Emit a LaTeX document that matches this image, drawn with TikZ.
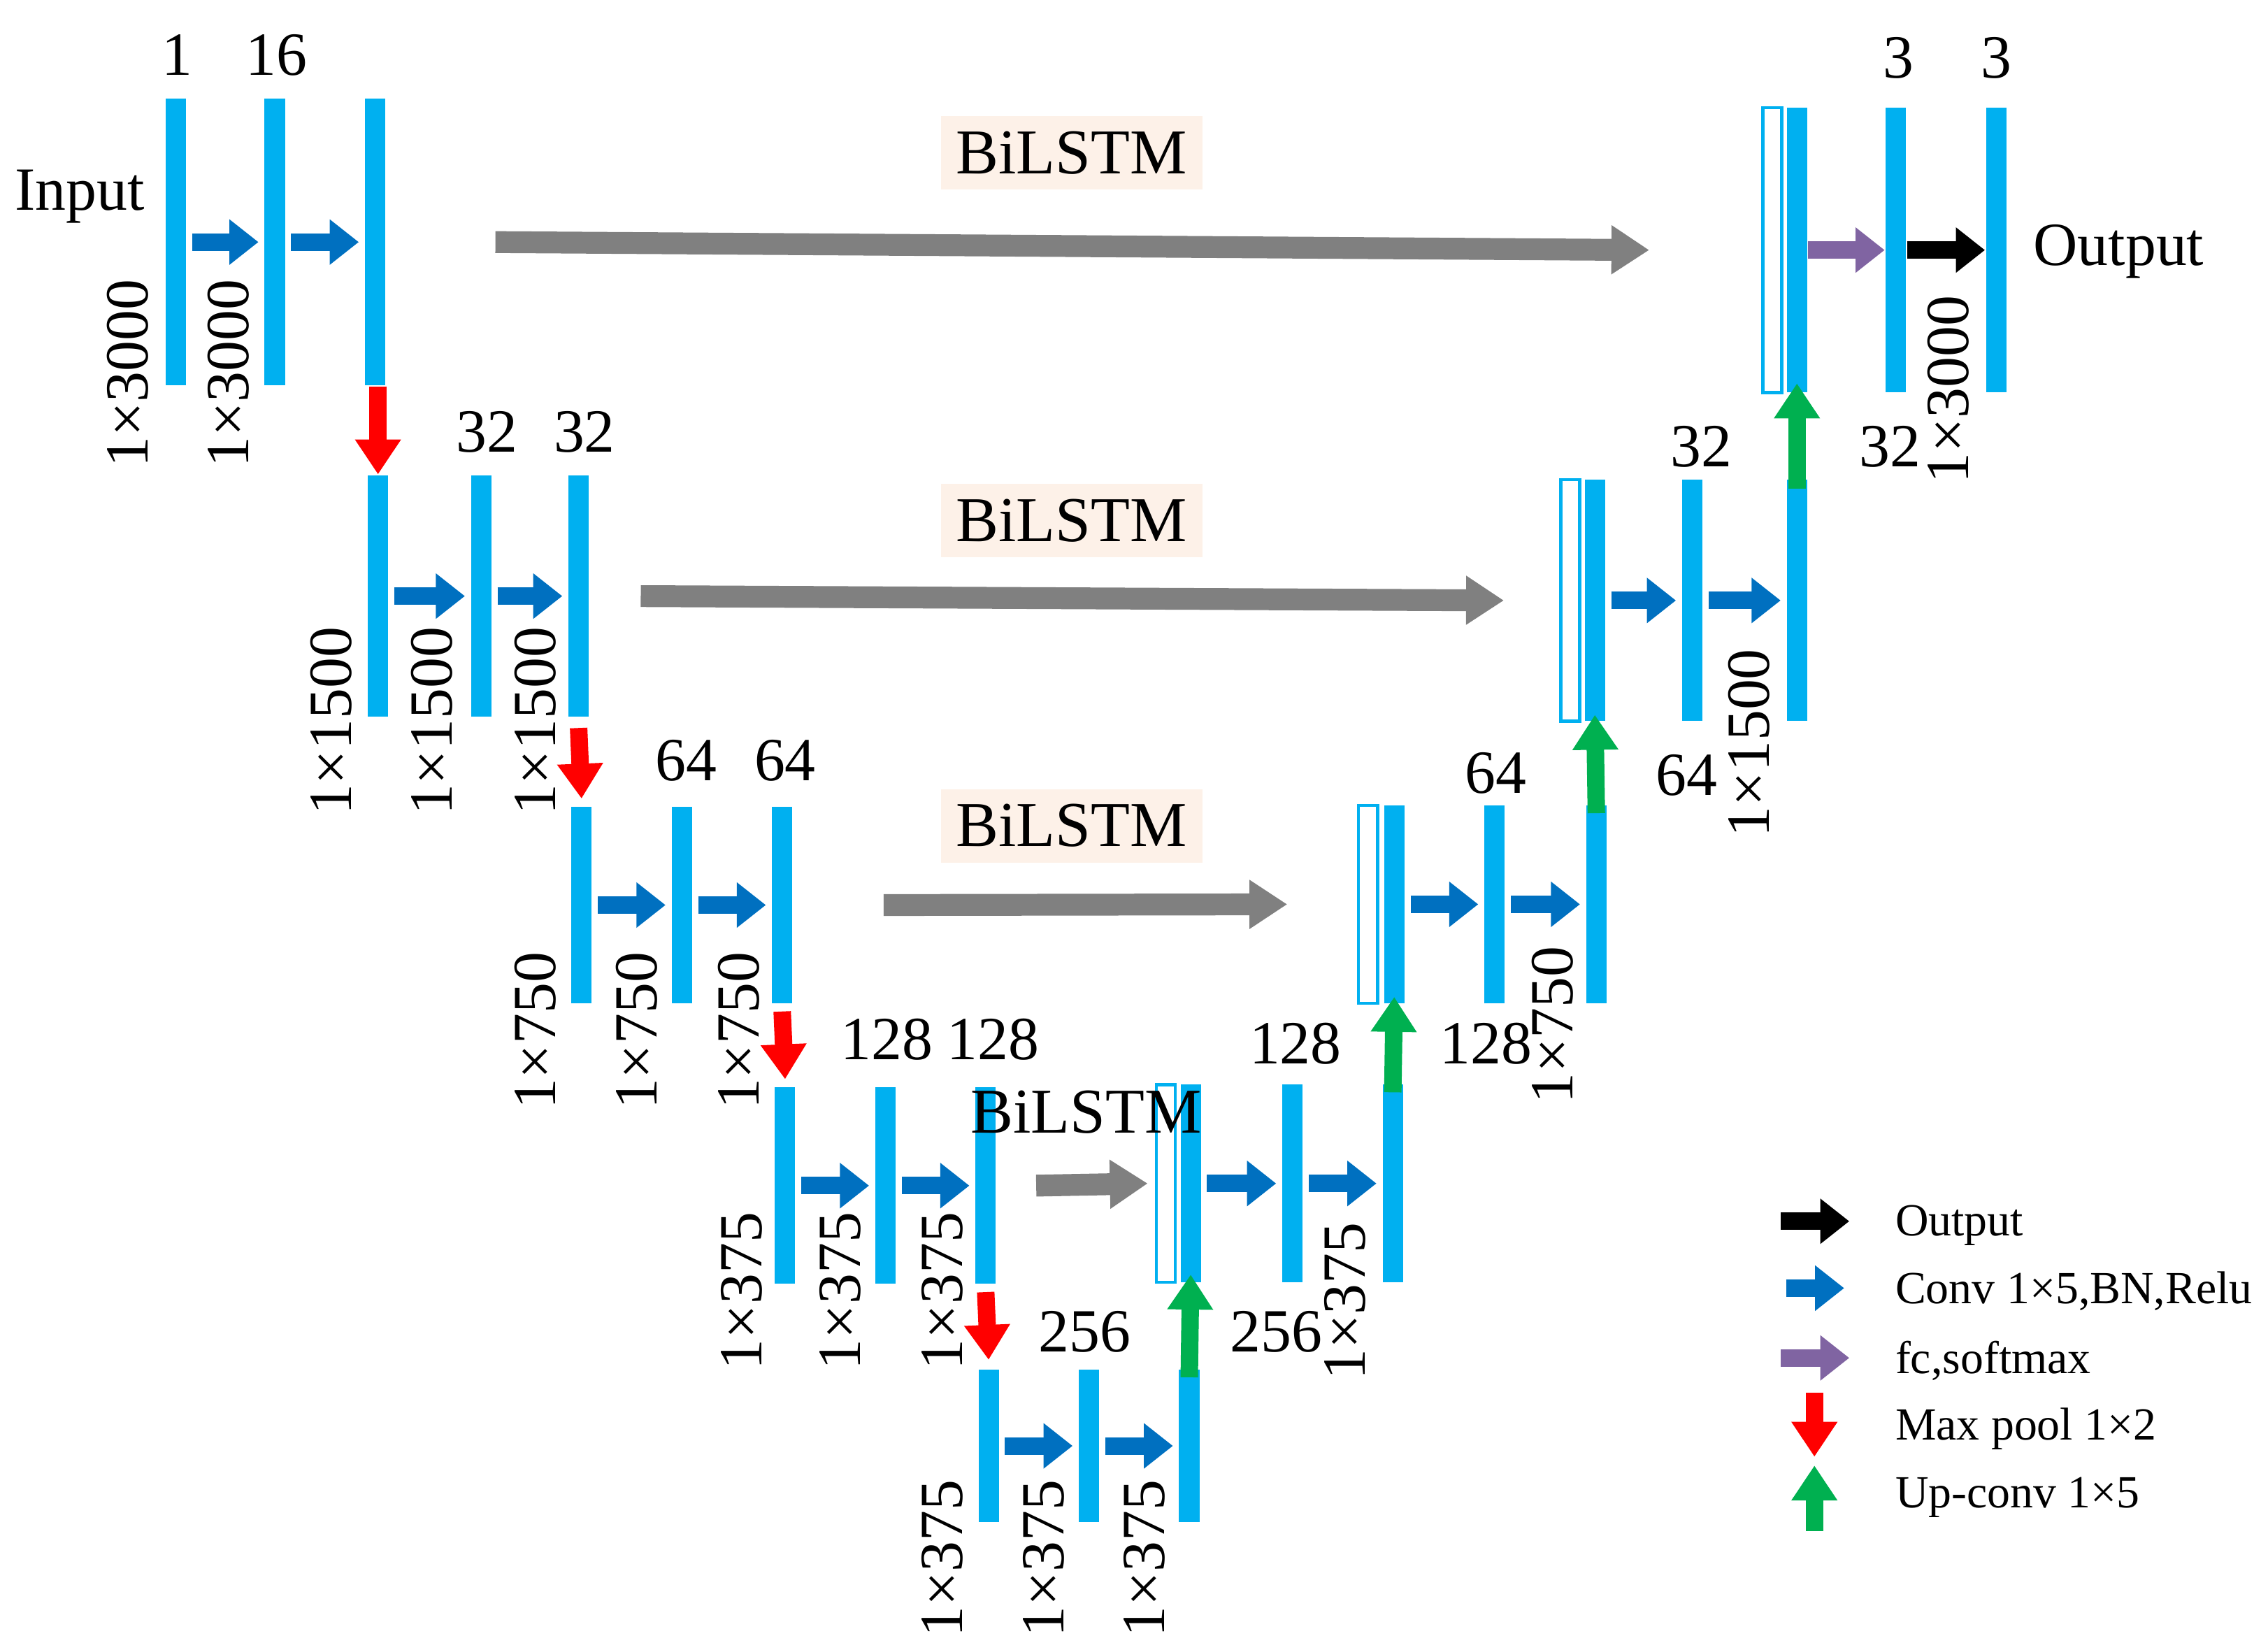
\documentclass[tikz,border=0pt]{standalone}
\usepackage{fontspec}
\setmainfont{Liberation Serif}
\usetikzlibrary{arrows.meta}
\definecolor{barc}{HTML}{00B0F0}
\definecolor{convc}{HTML}{0070C0}
\definecolor{grayc}{HTML}{808080}
\definecolor{purc}{HTML}{8064A2}
\definecolor{grnc}{HTML}{00B050}
\definecolor{redc}{HTML}{FF0000}
\definecolor{bgc}{HTML}{FDF1E8}
\tikzset{
 bar/.style={fill=barc,draw=none,minimum width=0.14cm,inner sep=0pt},
 obar/.style={fill=white,draw=barc,line width=0.6pt,minimum width=0.13cm,inner sep=0pt},
 txt/.style={font=\fontsize{12}{14}\selectfont,inner sep=0pt},
 dim/.style={txt,rotate=90},
 bil/.style={font=\fontsize{12.5}{14}\selectfont,fill=bgc,inner sep=3pt},
 leg/.style={font=\fontsize{9}{11}\selectfont,anchor=west,inner sep=0pt},
 conv/.style={draw=convc,line width=0.12cm,-{Triangle[length=0.2cm,width=0.3cm]},shorten <=1pt,shorten >=1pt},
 gray/.style={draw=grayc,line width=0.15cm,-{Triangle[length=0.26cm,width=0.32cm]}},
 down/.style={draw=redc,line width=0.12cm,-{Triangle[length=0.24cm,width=0.3cm]}},
 up/.style={draw=grnc,line width=0.12cm,-{Triangle[length=0.24cm,width=0.3cm]}},
 pur/.style={draw=purc,line width=0.12cm,-{Triangle[length=0.2cm,width=0.3cm]}},
 blk/.style={draw=black,line width=0.12cm,-{Triangle[length=0.2cm,width=0.3cm]}},
}
\newcommand{\blk}[5][bar]{\node[#1,minimum height=#5*0.01cm] (#2) at (#3,#4) {};}
\begin{document}
\begin{tikzpicture}[x=0.01cm,y=-0.01cm]
\useasboundingbox (0,0) rectangle (1560,1130);
% row 1 left
\blk{a1}{121}{166.5}{197}\blk{a2}{189}{166.5}{197}\blk{a3}{258}{166.5}{197}
\node[txt] at (122,38) {1};\node[txt] at (190,38) {16};
\node[txt] at (55,135) {Input};
\node[dim] at (88,257) {1×3000};\node[dim] at (157,257) {1×3000};
\draw[conv] (a1.east) -- (a2.west);\draw[conv] (a2.east) -- (a3.west);
% row 2 left
\blk{b1}{260}{410}{166}\blk{b2}{331}{410}{166}\blk{b3}{398}{410}{166}
\node[txt] at (335,297) {32};\node[txt] at (402,297) {32};
\node[dim] at (228,496) {1×1500};\node[dim] at (297,496) {1×1500};\node[dim] at (368,496) {1×1500};
\draw[conv] (b1.east) -- (b2.west);\draw[conv] (b2.east) -- (b3.west);
\draw[down] (a3.south) ++(0,0) coordinate (t1) (t1 -| b1) -- (b1.north);
% row 3 left
\blk{c1}{400}{622.5}{135}\blk{c2}{469}{622.5}{135}\blk{c3}{538}{622.5}{135}
\node[txt] at (472,523) {64};\node[txt] at (540,523) {64};
\node[dim] at (368,709) {1×750};\node[dim] at (438,709) {1×750};\node[dim] at (508,709) {1×750};
\draw[conv] (c1.east) -- (c2.west);\draw[conv] (c2.east) -- (c3.west);
\draw[down] ([yshift=-0.07cm]b3.south) -- ([yshift=0.05cm]c1.north);
% row 4 left
\blk{d1}{540}{815.5}{135}\blk{d2}{609}{815.5}{135}\blk{d3}{678}{815.5}{135}
\node[txt] at (610,715) {128};\node[txt] at (683,715) {128};
\node[dim] at (510,888) {1×375};\node[dim] at (578,888) {1×375};\node[dim] at (648,888) {1×375};
\draw[conv] (d1.east) -- (d2.west);\draw[conv] (d2.east) -- (d3.west);
\draw[down] ([yshift=-0.05cm]c3.south) -- ([yshift=0.05cm]d1.north);
% row 5
\blk{e1}{680}{994.5}{105}\blk{e2}{749}{994.5}{105}\blk{e3}{818}{994.5}{105}
\node[txt] at (746,916) {256};
\node[dim] at (648,1072) {1×375};\node[dim] at (718,1072) {1×375};\node[dim] at (787,1072) {1×375};
\draw[conv] (e1.east) -- (e2.west);\draw[conv] (e2.east) -- (e3.west);
\draw[down] ([yshift=-0.05cm]d3.south) -- ([yshift=0.06cm]e1.north);
% row 4 right
\blk[obar]{f0}{802}{814}{136}\blk{f1}{819}{814}{136}\blk{f2}{889}{814}{136}\blk{f3}{958}{814}{136}
\node[txt] at (891,718) {128};\node[txt] at (878,916) {256};
\node[dim] at (925,895) {1×375};
\draw[conv] (f1.east) -- (f2.west);\draw[conv] (f2.east) -- (f3.west);
\draw[up] ([yshift=-0.06cm]e3.north) -- ([yshift=0.06cm]f1.south);
% row 3 right
\blk[obar]{g0}{941}{622}{136}\blk{g1}{959}{622}{136}\blk{g2}{1028}{622}{136}\blk{g3}{1098}{622}{136}
\node[txt] at (1029,532) {64};\node[txt] at (1022,718) {128};
\node[dim] at (1068,705) {1×750};
\draw[conv] (g1.east) -- (g2.west);\draw[conv] (g2.east) -- (g3.west);
\draw[up] ([yshift=-0.06cm]f3.north) -- ([yshift=0.05cm]g1.south);
% row 2 right
\blk[obar]{h0}{1080}{413}{166}\blk{h1}{1097}{413}{166}\blk{h2}{1164}{413}{166}\blk{h3}{1236}{413}{166}
\node[txt] at (1170,307) {32};\node[txt] at (1160,533) {64};
\node[dim] at (1203,511) {1×1500};
\draw[conv] (h1.east) -- (h2.west);\draw[conv] (h2.east) -- (h3.west);
\draw[up] ([yshift=-0.06cm]g3.north) -- ([yshift=0.05cm]h1.south);
% row 1 right
\blk[obar]{i0}{1219}{172}{196}\blk{i1}{1236}{172}{196}\blk{i2}{1304}{172}{196}\blk{i3}{1373}{172}{196}
\node[txt] at (1306,40) {3};\node[txt] at (1373,40) {3};
\node[txt] at (1300,307) {32};
\node[dim] at (1340,268) {1×3000};
\node[txt,anchor=west] at (1398,173) {Output};
\draw[pur] (i1.east) -- (i2.west);\draw[blk] (i2.east) -- (i3.west);
\draw[up] ([yshift=-0.07cm]h3.north) -- ([yshift=0.07cm]i1.south);
% skip connections
\draw[gray] ([xshift=0.75cm]a3.east) -- ([xshift=-0.77cm]i0.west);
\node[bil] at (737,105) {BiLSTM};
\draw[gray] ([xshift=0.35cm]b3.east) -- ([xshift=-0.38cm]h0.west);
\node[bil] at (737,358) {BiLSTM};
\draw[gray] ([xshift=0.62cm]c3.east) -- ([xshift=-0.48cm]g0.west);
\node[bil] at (737,568) {BiLSTM};
\draw[gray] ([xshift=0.27cm]d3.east) -- ([xshift=-0.05cm]f0.west);
\node[font=\fontsize{12.5}{14}\selectfont,inner sep=0pt] at (747,765) {BiLSTM};
% legend
\coordinate (l1a) at (1225,840);\coordinate (l1b) at (1272,840);
\coordinate (l2a) at (1225,886);\coordinate (l2b) at (1272,886);
\coordinate (l3a) at (1225,934);\coordinate (l3b) at (1272,934);
\coordinate (l4a) at (1248,958);\coordinate (l4b) at (1248,1002);
\coordinate (l5a) at (1248,1053);\coordinate (l5b) at (1248,1008);
\draw[blk] (l1a) -- (l1b);\draw[conv] (l2a) -- (l2b);\draw[pur] (l3a) -- (l3b);
\draw[down] (l4a) -- (l4b);\draw[up] (l5a) -- (l5b);
\node[leg] at (1303,843) {Output};
\node[leg] at (1303,888) {Conv 1×5,BN,Relu};
\node[leg] at (1303,936) {fc,softmax};
\node[leg] at (1303,983) {Max pool 1×2};
\node[leg] at (1303,1030) {Up-conv 1×5};
\end{tikzpicture}
\end{document}
